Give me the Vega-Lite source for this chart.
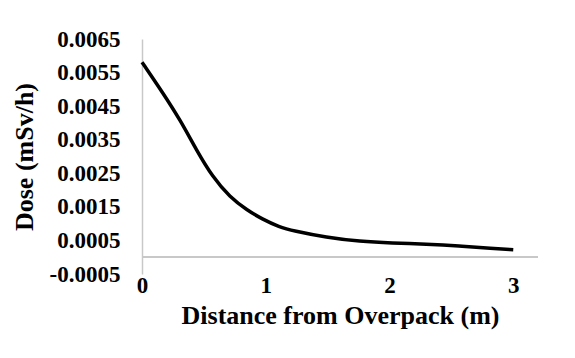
{
  "$schema": "https://vega.github.io/schema/vega-lite/v6.json",
  "autosize": "none",
  "width": 396,
  "height": 235,
  "padding": {"left": 142, "top": 39, "right": 37, "bottom": 84},
  "background": "white",
  "config": {
    "view": {"stroke": null},
    "font": "Liberation Serif",
    "axis": {"labelOverlap": false},
    "axisY": {
      "domain": true,
      "domainColor": "#c8c8c8",
      "domainWidth": 1.5,
      "ticks": false,
      "grid": false,
      "labelFlush": false,
      "labelOverlap": false,
      "labelFont": "Liberation Serif",
      "labelFontWeight": "bold",
      "labelFontSize": 23,
      "labelColor": "black",
      "labelPadding": 22,
      "titleFont": "Liberation Serif",
      "titleFontWeight": "bold",
      "titleFontSize": 26,
      "titleColor": "black",
      "titlePadding": 12
    }
  },
  "data": {
    "values": [
      {"distance": 0, "dose": 0.00581},
      {"distance": 0.17, "dose": 0.00489},
      {"distance": 0.31, "dose": 0.00408},
      {"distance": 0.44, "dose": 0.00319},
      {"distance": 0.57, "dose": 0.00239},
      {"distance": 0.71, "dose": 0.00179},
      {"distance": 0.85, "dose": 0.00140},
      {"distance": 0.97, "dose": 0.00114},
      {"distance": 1.11, "dose": 0.00090},
      {"distance": 1.22, "dose": 0.00079},
      {"distance": 1.49, "dose": 0.00059},
      {"distance": 1.76, "dose": 0.00047},
      {"distance": 2.02, "dose": 0.00042},
      {"distance": 2.30, "dose": 0.00039},
      {"distance": 2.56, "dose": 0.00034},
      {"distance": 2.83, "dose": 0.00026},
      {"distance": 3.0, "dose": 0.00022}
    ]
  },
  "layer": [
    {
      "mark": {"type": "rule", "color": "#c8c8c8", "strokeWidth": 1.5},
      "encoding": {
        "y": {
          "datum": 0,
          "scale": {"domain": [-0.0005, 0.0065], "nice": false, "zero": false},
          "axis": {
            "title": "Dose (mSv/h)",
            "labelOverlap": false,
            "values": [-0.0005, 0.0005, 0.0015, 0.0025, 0.0035, 0.0045, 0.0055, 0.0065],
            "labelExpr": "datum.value < 0 ? '-' + format(-datum.value, '.4f') : format(datum.value, '.4f')"
          }
        }
      }
    },
    {
      "mark": {"type": "line", "color": "black", "strokeWidth": 3.5, "interpolate": "basis"},
      "encoding": {
        "x": {
          "field": "distance",
          "type": "quantitative",
          "scale": {"domain": [0, 3.2], "nice": false},
          "axis": {
            "title": "Distance from Overpack (m)",
            "values": [0, 1, 2, 3],
            "format": "d",
            "domain": false,
            "ticks": false,
            "grid": false,
            "labelFlush": false,
            "labelOverlap": false,
            "labelFont": "Liberation Serif",
            "labelFontWeight": "bold",
            "labelFontSize": 23,
            "labelColor": "black",
            "labelPadding": 0,
            "titleFont": "Liberation Serif",
            "titleFontWeight": "bold",
            "titleFontSize": 26,
            "titleColor": "black",
            "titlePadding": 5
          }
        },
        "y": {
          "field": "dose",
          "type": "quantitative",
          "scale": {"domain": [-0.0005, 0.0065], "nice": false, "zero": false},
          "axis": {
            "title": "Dose (mSv/h)",
            "labelOverlap": false,
            "values": [-0.0005, 0.0005, 0.0015, 0.0025, 0.0035, 0.0045, 0.0055, 0.0065],
            "labelExpr": "datum.value < 0 ? '-' + format(-datum.value, '.4f') : format(datum.value, '.4f')"
          }
        }
      }
    }
  ]
}
